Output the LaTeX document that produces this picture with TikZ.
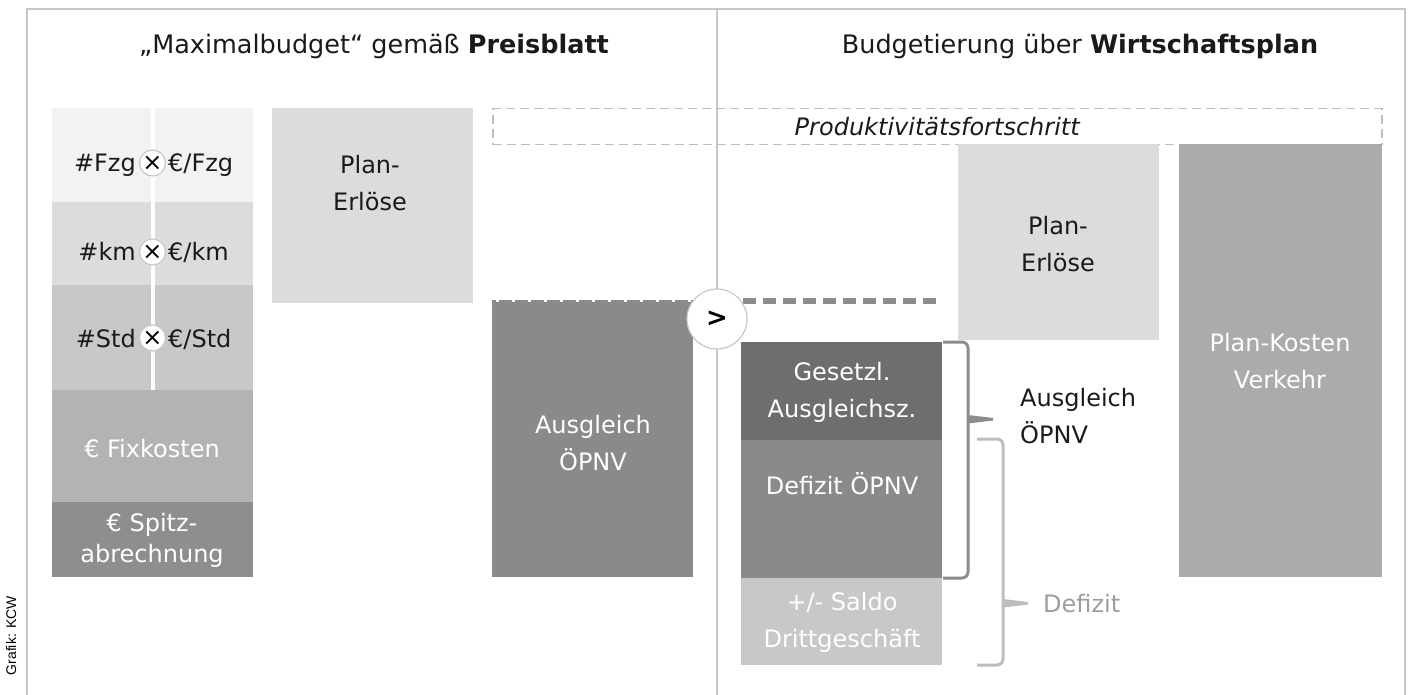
\documentclass[tikz,border=0pt]{standalone}
\usepackage{fontspec}
\setmainfont{DejaVu Sans}
\newfontfamily\arialf{Liberation Sans}
\definecolor{cFzg}{HTML}{F2F2F2}
\definecolor{cKm}{HTML}{DCDCDC}
\definecolor{cStd}{HTML}{C8C8C8}
\definecolor{cFix}{HTML}{B3B3B3}
\definecolor{cSpitz}{HTML}{8E8E8E}
\definecolor{cPlan}{HTML}{DCDCDC}
\definecolor{cAusg}{HTML}{8A8A8A}
\definecolor{cGes}{HTML}{6E6E6E}
\definecolor{cSaldo}{HTML}{C8C8C8}
\definecolor{cKost}{HTML}{ABABAB}
\definecolor{cFrame}{HTML}{C8C8C8}
\definecolor{cBr1}{HTML}{8C8C8C}
\definecolor{cBr2}{HTML}{BDBDBD}
\definecolor{cTxt}{HTML}{1A1A1A}
\begin{document}
\begin{tikzpicture}[x=1pt,y=-1pt,
  bar/.style={draw=none, inner sep=0pt, outer sep=0pt, anchor=north west, minimum width=#1},
  bar/.default=201pt,
  txt/.style={font=\fontsize{24}{37}\selectfont, align=center, inner sep=0pt, text=cTxt},
  wtxt/.style={txt, text=white},
  xcirc/.style={circle, draw=cFrame, fill=white, line width=1.2pt, minimum size=26pt, inner sep=0pt, font=\fontsize{24}{24}\selectfont},
  frame/.style={draw=cFrame, line width=1.6pt},
  title/.style={font=\fontsize{25.5}{30}\selectfont, inner sep=0pt, anchor=base, text=cTxt}
]
\useasboundingbox (0,0) rectangle (1409,695);

% frame
\draw[frame] (27,695) -- (27,9) -- (1405,9) -- (1405,695);
\draw[frame] (717,9) -- (717,695);

% titles
\node[title] (t1) at (374,54) {„Maximalbudget“ gemäß \textbf{Preisblatt}};
\node[title] (t2) at (1080,54) {Budgetierung über \textbf{Wirtschaftsplan}};

% left stack
\node[bar, fill=cFzg, minimum height=94pt] (fzg) at (52,108) {};
\node[bar, fill=cKm, minimum height=83pt] (km) at (52,202) {};
\node[bar, fill=cStd, minimum height=105pt] (std) at (52,285) {};
\node[bar, fill=cFix, minimum height=112pt] (fix) at (52,390) {};
\node[bar, fill=cSpitz, minimum height=75pt] (spitz) at (52,502) {};
\draw[white, line width=4pt] (fzg.north) -- (std.south);

\node[xcirc] (x1) at (152.5,163) {×};
\node[xcirc] (x2) at (152.5,252) {×};
\node[xcirc] (x3) at (152.5,338) {×};
\node[txt, anchor=base east] (fzgL) at (136,172) {\#Fzg};
\node[txt, anchor=base west] (fzgR) at (168,172) {€/Fzg};
\node[txt, anchor=base east] (kmL) at (136,261) {\#km};
\node[txt, anchor=base west] (kmR) at (168,261) {€/km};
\node[txt, anchor=base east] (stdL) at (136,347) {\#Std};
\node[txt, anchor=base west] (stdR) at (168,347) {€/Std};
\node[wtxt, anchor=base] (fixT) at (152,457) {€ Fixkosten};
\node[wtxt, font=\fontsize{24}{31}\selectfont] (spitzT) at (152,540) {€ Spitz-\\abrechnung};

% left Plan-Erloese
\node[bar, fill=cPlan, minimum height=195pt] (pe1) at (272,108) {};
\node[txt] (pe1T) at (370,183) {Plan-\\Erlöse};

% left Ausgleich
\node[bar, fill=cAusg, minimum height=277pt] (ausg1) at (492,300) {};
\node[wtxt] (ausg1T) at (593,443) {Ausgleich\\ÖPNV};
\draw[white, line width=3pt, dash pattern=on 3pt off 13pt] ([xshift=4pt,yshift=-0.5pt]ausg1.north west) -- ([yshift=-0.5pt]ausg1.north east);
\coordinate (dl1) at (743,301);
\coordinate (dl2) at (936,301);
\draw[cBr1, line width=5pt, dash pattern=on 13pt off 7pt] (dl1) -- (dl2);

% productivity box
\node[draw=cBr2, dash pattern=on 9pt off 5pt, line width=1.5pt, minimum width=889pt, minimum height=36pt, inner sep=0pt, anchor=north west, font=\fontsize{24}{28}\selectfont\itshape, text=cTxt] (prod) at (492,108) {Produktivitätsfortschritt};

% right side bars
\node[bar, fill=cPlan, minimum height=196pt] (pe2) at (958,144) {};
\node[txt] (pe2T) at (1058,244) {Plan-\\Erlöse};
\node[bar=203pt, fill=cKost, minimum height=433pt] (kost) at (1179,144) {};
\node[wtxt] (kostT) at (1280,361) {Plan-Kosten\\Verkehr};

\node[bar, fill=cGes, minimum height=98pt] (ges) at (741,342) {};
\node[wtxt] (gesT) at (842,392) {Gesetzl.\\Ausgleichsz.};
\node[bar, fill=cAusg, minimum height=138pt] (def) at (741,440) {};
\node[wtxt, anchor=base] (defT) at (842,494) {Defizit ÖPNV};
\node[bar, fill=cSaldo, minimum height=87pt] (saldo) at (741,578) {};
\node[wtxt] (saldoT) at (842,622) {+/- Saldo\\Drittgeschäft};

% compare circle
\node[circle, draw=cFrame, fill=white, line width=1.2pt, minimum size=60pt, inner sep=0pt, font=\fontsize{26}{26}\selectfont\bfseries] (gt) at (717,319) {>};

% brackets
\draw[cBr1, line width=3pt, rounded corners=6pt] (943,342) -- (968,342) -- (968,578) -- (943,578);
\fill[cBr1] (968,415) -- (993,418) -- (993,420.5) -- (968,423.5) -- cycle;
\draw[cBr2, line width=3pt, rounded corners=6pt] (977,439) -- (1003,439) -- (1003,665) -- (977,665);
\fill[cBr2] (1003,599) -- (1028,602) -- (1028,604.5) -- (1003,607.5) -- cycle;

\node[txt, align=left, anchor=west] (ausgL) at (1020,416) {Ausgleich\\ÖPNV};
\node[txt, anchor=base west, text=cBr1!85] (defL) at (1043,612) {Defizit};

% credit
\node[font=\arialf\fontsize{14}{16}\selectfont, rotate=90, anchor=east, inner sep=0pt] (credit) at (11,596) {Grafik: KCW};
\end{tikzpicture}
\end{document}
